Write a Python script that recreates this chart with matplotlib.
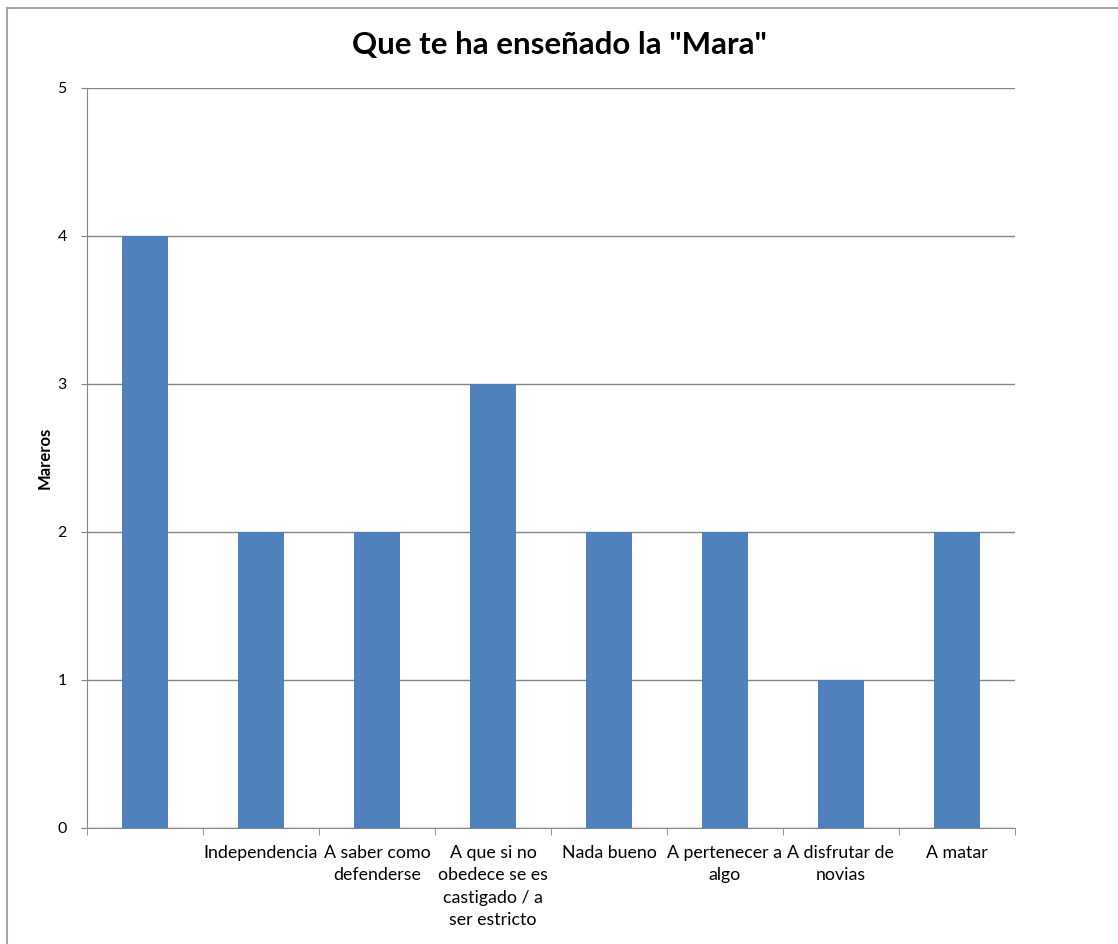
import matplotlib.pyplot as plt
import numpy as np
from matplotlib.lines import Line2D

plt.rcParams['font.family'] = ['Lato', 'DejaVu Sans']

title = 'Que te ha enseñado la "Mara"'
ylabel = "Mareros"
categories = ["", "Independencia", "A saber como\ndefenderse",
              "A que si no\nobedece se es\ncastigado / a\nser estricto",
              "Nada bueno", "A pertenecer a\nalgo", "A disfrutar de\nnovias",
              "A matar"]
values = [4, 2, 2, 3, 2, 2, 1, 2]
yticks = [0, 1, 2, 3, 4, 5]

bar_color = "#4f81bd"
grid_color = "#868686"

fig = plt.figure(figsize=(11.18, 9.44), dpi=100)
ax = fig.add_axes([0.0778, 0.1229, 0.830, 0.7839])

x = np.arange(len(categories))
ax.bar(x, values, width=0.4, color=bar_color, zorder=3)

ax.set_xlim(-0.5, len(categories) - 0.5)
ax.set_ylim(0, 5)
ax.set_yticks(yticks)
ax.set_yticklabels([str(t) for t in yticks], fontsize=11.5)
ax.yaxis.grid(True, color=grid_color, linewidth=1, zorder=0)

# category labels centred under bars, tick marks between categories
ax.set_xticks(x)
ax.set_xticklabels(categories, fontsize=12.8, linespacing=1.5, va="top")
ax.tick_params(axis="x", length=0, pad=12)
ax.set_xticks(np.arange(-0.5, len(categories)), minor=True)
ax.tick_params(axis="x", which="minor", length=5, color=grid_color, direction="out")
ax.tick_params(axis="y", length=4.5, color=grid_color, pad=10)

for s in ["top", "right"]:
    ax.spines[s].set_visible(False)
for s in ["left", "bottom"]:
    ax.spines[s].set_color(grid_color)

ax.set_ylabel(ylabel, fontsize=12, fontweight="bold")
ax.yaxis.set_label_coords(-0.037, 0.5)

fig.text(0.5, 0.952, title, ha="center", va="center", fontsize=22.5, fontweight="bold")

# chart frame
fig.add_artist(Line2D([7 / 1118, 1], [1 - 8 / 944, 1 - 8 / 944],
                      transform=fig.transFigure, color="#a6a6a6", linewidth=1.5))
fig.add_artist(Line2D([7 / 1118, 7 / 1118], [0, 1 - 8 / 944],
                      transform=fig.transFigure, color="#a6a6a6", linewidth=1.5))

fig.savefig("out.png", dpi=100, facecolor="white")
